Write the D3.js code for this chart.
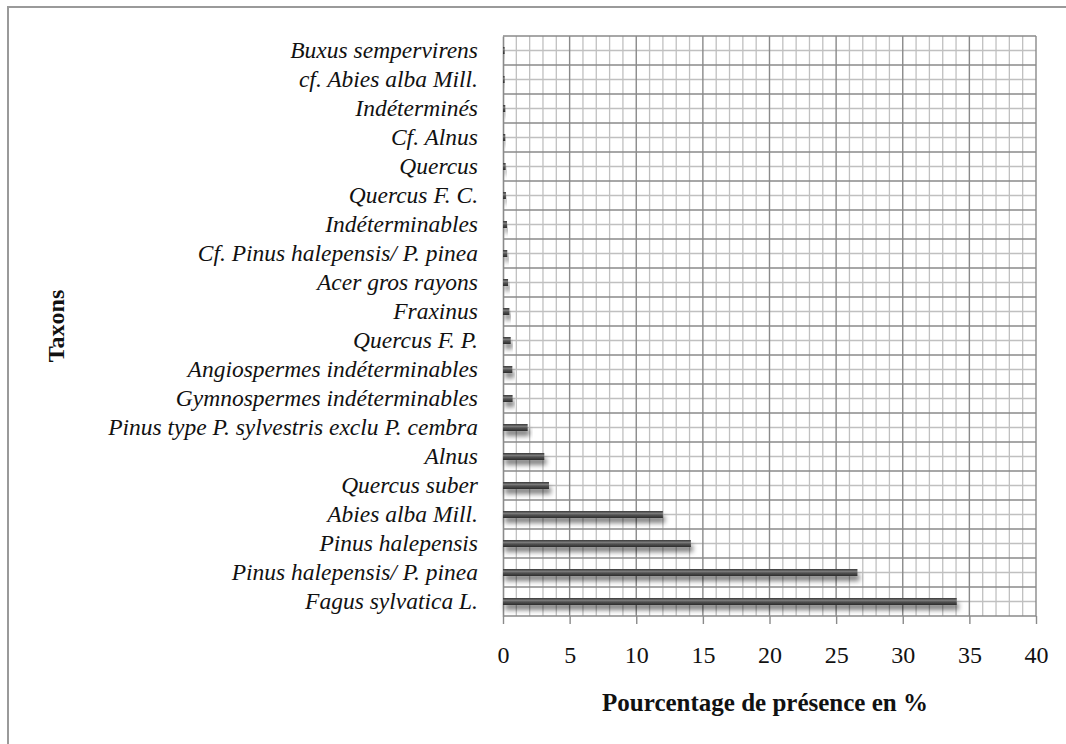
<!DOCTYPE html>
<html>
<head>
<meta charset="utf-8">
<script src="https://cdn.jsdelivr.net/npm/d3@7"></script>
<style>
  html, body { margin: 0; padding: 0; background: #fff; }
  svg { display: block; }
</style>
</head>
<body>
<svg id="chart" width="1066" height="744"></svg>
<script>
// Data (top to bottom as in the reference)
const categories = [
  "Buxus sempervirens",
  "cf. Abies alba Mill.",
  "Indéterminés",
  "Cf. Alnus",
  "Quercus",
  "Quercus F. C.",
  "Indéterminables",
  "Cf. Pinus halepensis/ P. pinea",
  "Acer gros rayons",
  "Fraxinus",
  "Quercus F. P.",
  "Angiospermes indéterminables",
  "Gymnospermes indéterminables",
  "Pinus type P. sylvestris exclu P. cembra",
  "Alnus",
  "Quercus suber",
  "Abies alba Mill.",
  "Pinus halepensis",
  "Pinus halepensis/ P. pinea",
  "Fagus sylvatica L."
];
const values = [0.12, 0.12, 0.17, 0.17, 0.2, 0.22, 0.3, 0.32, 0.38, 0.48, 0.58, 0.7, 0.72, 1.85, 3.1, 3.45, 12.0, 14.1, 26.6, 34.05];
const xTicks = [0, 5, 10, 15, 20, 25, 30, 35, 40];
const xTitle = "Pourcentage de présence en %";
const yTitle = "Taxons";

const data = categories.map((c, i) => ({ c, v: values[i] }));

const svg = d3.select("#chart");
const M = { left: 503, right: 1036, top: 36, bottom: 616 };
const fontFam = "'Liberation Serif', 'Times New Roman', serif";

// frame
svg.append("rect")
  .attr("x", 8).attr("y", 7).attr("width", 1070).attr("height", 760)
  .attr("fill", "none").attr("stroke", "#9a9a9a").attr("stroke-width", 2);

const x = d3.scaleLinear().domain([0, 40]).range([M.left, M.right]);
const y = d3.scaleBand().domain(categories).range([M.top, M.bottom]).paddingInner(0).paddingOuter(0);

const defs = svg.append("defs");
const grad = defs.append("linearGradient").attr("id", "barGrad")
  .attr("x1", 0).attr("y1", 0).attr("x2", 0).attr("y2", 1);
grad.append("stop").attr("offset", "0%").attr("stop-color", "#383838");
grad.append("stop").attr("offset", "35%").attr("stop-color", "#7a7a7a");
grad.append("stop").attr("offset", "55%").attr("stop-color", "#555");
grad.append("stop").attr("offset", "100%").attr("stop-color", "#2c2c2c");

const filt = defs.append("filter").attr("id", "shadow")
  .attr("x", "-10%").attr("y", "-100%").attr("width", "130%").attr("height", "400%");
filt.append("feGaussianBlur").attr("in", "SourceAlpha").attr("stdDeviation", 2.5).attr("result", "b");
filt.append("feOffset").attr("in", "b").attr("dx", 2).attr("dy", 5).attr("result", "o");
filt.append("feComponentTransfer").attr("in", "o").attr("result", "s")
  .append("feFuncA").attr("type", "linear").attr("slope", 0.5);
const fm = filt.append("feMerge");
fm.append("feMergeNode").attr("in", "s");
fm.append("feMergeNode").attr("in", "SourceGraphic");

const grid = svg.append("g");
// minor vertical gridlines every 1
const minorX = d3.range(1, 40).filter(d => d % 5 !== 0);
grid.selectAll(".vminor").data(minorX).join("line")
  .attr("x1", d => x(d)).attr("x2", d => x(d))
  .attr("y1", M.top).attr("y2", M.bottom)
  .attr("stroke", "#c0c0c0").attr("stroke-width", 1.3);
// minor horizontal gridlines at band centers
grid.selectAll(".hminor").data(categories).join("line")
  .attr("x1", M.left).attr("x2", M.right)
  .attr("y1", d => y(d) + y.bandwidth() / 2).attr("y2", d => y(d) + y.bandwidth() / 2)
  .attr("stroke", "#c0c0c0").attr("stroke-width", 1.3);
// major horizontal gridlines at band boundaries
const bounds = categories.map(d => y(d)).concat([M.bottom]);
grid.selectAll(".hmajor").data(bounds).join("line")
  .attr("x1", M.left).attr("x2", M.right)
  .attr("y1", d => d).attr("y2", d => d)
  .attr("stroke", "#8a8a8a").attr("stroke-width", 1.4);
// major vertical gridlines every 5
grid.selectAll(".vmajor").data(xTicks.slice(1)).join("line")
  .attr("x1", d => x(d)).attr("x2", d => x(d))
  .attr("y1", M.top).attr("y2", M.bottom)
  .attr("stroke", "#8a8a8a").attr("stroke-width", 1.4);

// x axis
const xAxis = svg.append("g").attr("transform", `translate(0,${M.bottom})`)
  .call(d3.axisBottom(x).tickValues(xTicks).tickSize(8).tickPadding(22).tickFormat(d3.format("d")));
xAxis.select(".domain").remove();
xAxis.selectAll(".tick line").attr("stroke", "#8a8a8a").attr("stroke-width", 1.4);
xAxis.selectAll(".tick text").attr("font-family", fontFam).attr("font-size", 24).attr("fill", "#111");

// y axis (labels)
const yAxis = svg.append("g").attr("transform", `translate(${M.left},0)`)
  .call(d3.axisLeft(y).tickSize(0).tickPadding(25));
yAxis.select(".domain").attr("stroke", "#8a8a8a").attr("stroke-width", 1.6);
yAxis.selectAll(".tick text").attr("font-family", fontFam).attr("font-size", 23.5)
  .attr("font-style", "italic").attr("fill", "#111").attr("dy", "0.30em");

// bars
const bh = 7;
svg.append("g").selectAll("rect").data(data).join("rect")
  .attr("x", x(0))
  .attr("y", d => y(d.c) + y.bandwidth() / 2 - bh / 2)
  .attr("width", d => x(d.v) - x(0))
  .attr("height", bh)
  .attr("fill", "url(#barGrad)")
  .attr("filter", "url(#shadow)");

// titles
svg.append("text").attr("x", 765).attr("y", 711)
  .attr("text-anchor", "middle").attr("font-family", fontFam).attr("font-weight", "bold")
  .attr("font-size", 25).attr("fill", "#111").text(xTitle);
svg.append("text").attr("transform", "translate(64,326) rotate(-90)")
  .attr("text-anchor", "middle").attr("font-family", fontFam).attr("font-weight", "bold")
  .attr("font-size", 24).attr("fill", "#111").text(yTitle);
</script>
</body>
</html>
